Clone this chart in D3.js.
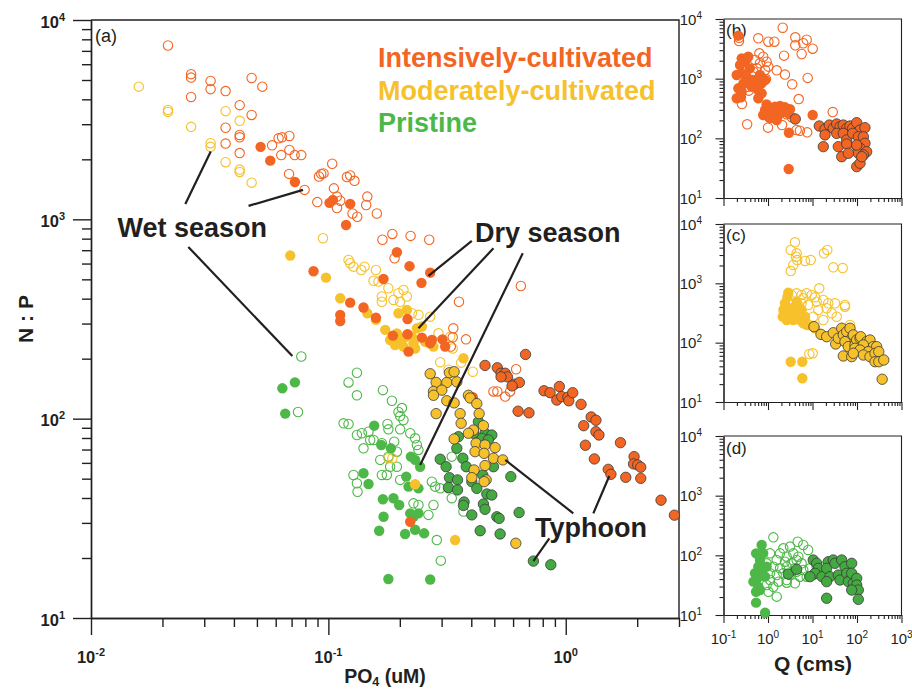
<!DOCTYPE html>
<html>
<head>
<meta charset="utf-8">
<script src="https://cdn.jsdelivr.net/npm/d3@7/dist/d3.min.js"></script>
<style>
html,body{margin:0;padding:0;background:#fff;}
svg{display:block;}
</style>
</head>
<body>
<svg id="chart" width="912" height="691" font-family="'Liberation Sans', Arial, Helvetica, sans-serif"></svg>
<script>
// ================= DATA =================
const groupNames = ["Intensively-cultivated", "Moderately-cultivated", "Pristine"];
const groupColors = ["#F26522", "#F6C12B", "#4DB848"];
const typhoonFill = ["#F26522", "#F6C12B", "#45A942"];

// Panel (a): [PO4 (uM), N:P]
const intensiveWet = [[0.0211,7450],[0.0264,5350],[0.0264,5140],[0.0264,4110],[0.0319,4950],[0.0319,4500],[0.0369,4400],[0.0475,5120],[0.0527,4630],[0.0423,3740],[0.0475,3340],[0.0369,2880],[0.0423,2650],[0.0423,2580],[0.0369,2400],[0.0423,2150],[0.0579,2350],[0.0617,2550],[0.0638,2580],[0.0685,2620],[0.0685,2230],[0.0633,2100],[0.0721,2100],[0.0769,2100],[0.1038,1900],[0.0683,1690],[0.0913,1640],[0.0933,1690],[0.0954,1700],[0.0794,1405],[0.1055,1430],[0.0898,1220],[0.1087,1300],[0.1087,1140],[0.1197,1630],[0.1236,1660],[0.1288,1560],[0.1122,1240],[0.1264,1070],[0.1323,1030],[0.1459,1300],[0.1443,1180],[0.160,1070],[0.169,790],[0.186,845],[0.222,826],[0.266,790],[0.190,638],[0.355,386],[0.380,250],[0.334,256],[0.328,230],[0.647,463],[0.618,177],[0.496,137],[0.515,137],[0.556,129],[0.583,137],[0.336,284]];
const intensiveDry = [[0.0518,2310],[0.0569,1970],[0.0723,1540],[0.1011,1210],[0.1045,1250],[0.1236,1195],[0.1187,937],[0.1944,684],[0.2197,582],[0.2685,540],[0.1707,502],[0.2467,480],[0.0866,549],[0.1236,382],[0.1406,361],[0.1586,321],[0.1122,331],[0.1122,309],[0.2155,316],[0.187,261],[0.2155,265],[0.2477,255],[0.2729,248],[0.2685,239],[0.3024,250],[0.3105,230],[0.2176,217],[0.2212,30.4],[0.406,128]];
const intensiveTyphoon = [[0.677,210],[0.457,185],[0.515,180],[0.534,169],[0.556,169],[0.568,162],[0.608,149],[0.638,152],[0.594,146],[0.534,162],[0.630,109],[0.70,107],[0.810,138],[0.859,135],[0.940,145],[0.917,124],[0.962,129],[1.02,128],[1.03,123],[1.07,135],[1.16,118],[1.28,102],[1.34,98.2],[1.19,92.2],[1.34,86.0],[1.38,82.8],[1.21,73.6],[1.32,62.8],[1.70,75.8],[1.51,55.7],[1.55,52.6],[1.79,50.8],[1.94,64.5],[1.93,59.3],[2.01,58.6],[2.07,57.1],[2.07,50.2],[2.52,39.0],[2.87,32.8]];
const moderateWet = [[0.0159,4630],[0.0211,3540],[0.0211,3460],[0.0264,2910],[0.0319,2410],[0.0319,2310],[0.0369,3490],[0.0423,3120],[0.0369,1935],[0.0423,1776],[0.0423,1729],[0.0475,1528],[0.0949,804],[0.1216,626],[0.1236,602],[0.1276,579],[0.1375,557],[0.142,579],[0.1586,557],[0.155,492],[0.1626,487],[0.179,451],[0.1974,426],[0.2072,442],[0.168,410],[0.168,386],[0.188,394],[0.2006,386],[0.2141,410],[0.2248,338],[0.2396,332],[0.2685,325],[0.291,268],[0.326,258],[0.334,225],[0.296,192],[0.3205,176],[0.406,172],[0.3625,191],[0.179,63.3],[0.186,63.3]];
const moderateDry = [[0.0691,658],[0.0977,510],[0.1122,402],[0.1459,338],[0.1586,313],[0.1974,338],[0.2141,351],[0.182,248],[0.1944,268],[0.2006,248],[0.2248,258],[0.2283,239],[0.236,284],[0.2477,290],[0.2072,230],[0.232,225],[0.2557,243],[0.2772,230],[0.3707,201],[0.232,46.9],[0.342,24.6],[0.1736,279],[0.2107,257],[0.191,234]];
const moderateTyphoon = [[0.2685,168],[0.2844,152],[0.3155,152],[0.3477,153],[0.3236,170],[0.3387,172],[0.2772,137],[0.3006,139],[0.2772,131],[0.3155,123],[0.3387,120],[0.389,131],[0.3956,127],[0.422,119],[0.2844,106],[0.359,106],[0.4316,106],[0.3625,94.8],[0.45,92.2],[0.4085,87.7],[0.389,84.5],[0.3387,79.1],[0.419,75.3],[0.415,68.3],[0.457,73.8],[0.453,67],[0.504,71.6],[0.496,63.3],[0.543,62.1],[0.457,58.2],[0.411,55.3],[0.402,50.6],[0.462,49.3],[0.453,48.3],[0.616,23.7]];
const pristineWet = [[0.0769,205],[0.0745,108],[0.1319,170],[0.1216,152],[0.1319,131],[0.1697,139],[0.1852,123],[0.2041,113],[0.1974,108],[0.2006,103],[0.2072,98.5],[0.1159,94.8],[0.1216,94],[0.1319,82.8],[0.1384,84.5],[0.1476,86],[0.15,78.2],[0.1774,94],[0.179,88.4],[0.2006,88.4],[0.1406,71],[0.155,78.2],[0.168,75.3],[0.1894,76.7],[0.1944,68.3],[0.1654,62.1],[0.179,64.5],[0.182,57.4],[0.1763,52.2],[0.1944,57.4],[0.2006,49.3],[0.2212,84.5],[0.232,79.7],[0.236,73.8],[0.2396,69.7],[0.1276,52.2],[0.1319,47.4],[0.1327,43],[0.168,52.2],[0.2729,48.3],[0.2818,45.6],[0.296,44.7],[0.3205,44.7],[0.331,64.5],[0.331,39.9],[0.2283,37.6],[0.2396,36.9],[0.264,32.9],[0.2772,36.9],[0.3707,34.2],[0.2863,24.6],[0.2977,19.4]];
const pristineDry = [[0.064,142],[0.0723,152],[0.0658,106],[0.156,92.2],[0.167,73.8],[0.1834,71],[0.1406,53.2],[0.1476,47],[0.2227,64.5],[0.232,62.1],[0.2435,57.4],[0.2128,51.2],[0.2176,45.6],[0.2396,44.7],[0.1697,39.4],[0.188,39.9],[0.1987,36.9],[0.1708,32.2],[0.2212,33.5],[0.2283,32.2],[0.2396,33.5],[0.1637,27.4],[0.2105,26.4],[0.232,27.7],[0.2532,26.6],[0.179,15.7],[0.2685,15.6]];
const pristineTyphoon = [[0.353,81.2],[0.4286,96.6],[0.457,84.5],[0.443,79.7],[0.488,82.8],[0.472,78.2],[0.4085,84.5],[0.3477,71],[0.3685,63.3],[0.296,62.6],[0.3133,57.4],[0.381,57.4],[0.496,57.4],[0.3236,50.6],[0.35,49.3],[0.3205,45.2],[0.35,43.9],[0.402,48.3],[0.422,44.7],[0.447,52.2],[0.587,51.2],[0.465,41.9],[0.488,41.4],[0.373,38.2],[0.3707,36.7],[0.45,37.3],[0.457,35.1],[0.402,32.9],[0.5125,32.2],[0.524,31.6],[0.636,33.8],[0.436,27.4],[0.529,26.4],[0.7305,19.3],[0.865,18.5]];

// Panels (b)-(d): [Q (cms), N:P]
const intensiveWetQ = [[0.223,4850],[0.223,4280],[0.605,4750],[1.02,4170],[1.39,4170],[2.14,7150],[4.1,4930],[7.4,4500],[6.2,3920],[4.1,3620],[10.1,3180],[2.29,2430],[5.7,2590],[0.64,2660],[0.78,2330],[0.51,2060],[0.66,1810],[0.93,1920],[1.02,1590],[0.86,1400],[0.56,1490],[0.47,1310],[1.57,1380],[2.41,1170],[0.90,990],[7.8,1030],[0.34,730],[3.5,805],[0.37,630],[4.9,455],[0.26,375],[28.5,276],[2.63,253],[0.34,172],[1.0,151],[2.07,167],[4.4,138],[5.2,134],[7.6,126],[3.4,225]];
const intensiveDryQ = [[0.215,5250],[0.257,2190],[0.304,1920],[0.235,1690],[0.36,2330],[0.39,1490],[0.257,1230],[0.198,1150],[0.33,1080],[0.47,950],[0.56,783],[0.43,733],[0.605,646],[0.72,568],[0.215,689],[0.257,604],[0.198,469],[0.247,487],[0.605,469],[0.72,836],[0.86,950],[0.66,1150],[0.36,836],[0.28,836],[0.93,371],[0.86,298],[1.11,319],[1.44,339],[1.86,348],[2.41,331],[3.12,307],[0.78,246],[1.02,231],[1.30,263],[1.72,246],[2.2,279],[2.86,263],[1.11,217],[1.57,203],[10.1,246],[2.96,124],[2.92,30.6]];
const intensiveTyphoonQ = [[14.2,161],[19.1,142],[23.9,167],[29.3,147],[35.0,174],[41.5,157],[49.2,167],[58.7,147],[69.6,161],[80,147],[98.5,183],[117,138],[151,151],[19.1,114],[35.0,121],[49.2,121],[58.7,94],[80,121],[107,106],[139,106],[151,82.6],[17.5,72.5],[38,72.5],[58.7,80.4],[98.5,74.3],[117,68.1],[107,56.1],[165,59.7],[139,52.6],[45.3,49.2],[63.7,56.1],[98.5,33.5],[117,38.2],[128,49.2],[98.5,77.3],[4.1,211]];
const moderateWetQ = [[4.04,4920],[3.24,3650],[4.4,3210],[4.26,2810],[4.55,2470],[3.7,2040],[3.24,1610],[6.8,2380],[9.1,2470],[18.1,3210],[21.5,3650],[29.3,1860],[47.7,1810],[14.2,824],[3.4,636],[4.4,679],[5.7,636],[6.2,560],[7.4,679],[9.6,636],[11.4,582],[5.7,461],[8.0,432],[12.4,491],[17.5,524],[22.6,461],[32,461],[53.7,432],[13.5,356],[20.8,380],[27,313],[35,274],[10.4,274],[17.5,241],[8.0,199],[53.7,404],[69.6,199],[8.5,64.4],[10.1,66.1]];
const moderateDryQ = [[2.86,696],[2.72,582],[2.41,461],[2.21,356],[2.14,274],[2.63,241],[3.4,380],[4.04,313],[5.24,241],[6.2,212],[4.4,491],[5.7,356],[6.8,274],[3.12,292],[3.7,241],[4.8,404],[2.63,313],[7.4,199],[10.4,186],[11.4,175],[3.24,47.7],[5.9,47.7],[5.9,25.1]];
const moderateTyphoonQ = [[15.5,138],[20.8,126],[29.3,147],[33.2,95],[38,119],[45.3,175],[49.2,135],[58.7,153],[69.6,175],[76,119],[82.6,135],[53.7,104],[63.7,85.7],[90.2,91.5],[98.5,111],[117,119],[121,126],[165,104],[196,111],[139,91.5],[233,85.7],[277,85.7],[90.2,80.4],[117,75.2],[179,70.5],[49.2,59.6],[76,58.1],[139,61.9],[196,58.1],[254,66.2],[309,70.5],[254,47.7],[309,47.7],[400,51],[82.6,66.2],[368,24.2],[10.8,186]];
const pristineWetQ = [[1.32,200],[4.65,169],[3.12,140],[2.21,131],[6.2,149],[8.0,123],[1.11,108],[1.86,108],[2.63,94.9],[3.7,108],[4.8,94.9],[1.57,83.5],[2.41,78.2],[3.4,73.5],[4.4,83.5],[5.7,73.5],[0.93,73.5],[1.32,64.5],[1.86,60.6],[2.63,64.5],[4.04,60.6],[1.11,50.0],[1.57,46.8],[2.21,50.0],[3.12,46.8],[4.4,53.2],[6.2,56.8],[8.78,60.6],[12.4,64.5],[17.5,64.5],[5.24,43.9],[7.4,43.9],[10.4,46.8],[1.11,38.6],[1.72,36.2],[2.63,34.8],[4.04,34.0],[0.93,31.8],[1.32,29.8],[1.02,24.5],[1.57,20.3],[2.63,38.6]];
const pristineDryQ = [[0.72,149],[0.54,108],[0.66,83.5],[0.605,64.5],[0.51,50.0],[0.72,53.2],[0.575,41.2],[0.47,36.2],[0.605,29.8],[0.54,24.5],[0.66,26.2],[0.86,43.9],[0.93,64.5],[0.78,108],[0.54,16.1],[0.86,10.9]];
const pristineTyphoonQ = [[2.86,48.6],[4.4,58.3],[10.4,83.5],[12.4,73.5],[13.5,60.6],[11.4,50.0],[8.78,43.9],[16.4,43.9],[22.6,78.2],[20.8,60.6],[29.3,83.5],[32,73.5],[24.7,43.9],[20.8,36.2],[38,46.8],[41.5,38.6],[45.3,83.5],[53.7,64.5],[58.7,50.0],[69.6,38.6],[63.7,36.2],[76,73.5],[76,50.0],[82.6,34.0],[98.5,41.2],[98.5,31.8],[107,26.2],[76,26.2],[20.8,19.1],[107,18.3]];

// Axis ticks
const po4Majors = [0.01, 0.1, 1];
const npMajors = [10, 100, 1000, 10000];
const qMajors = [0.1, 1, 10, 100, 1000];

// Annotations (text anchor and leader lines, in data units of panel a)
const annotLabels = [
  {text: "Wet season", at: [0.01292, 817]},
  {text: "Dry season", at: [0.4148, 773]},
  {text: "Typhoon", at: [0.743, 25.6]}
];
const annotLines = [
  [[0.02497, 1195], [0.03195, 2188]],
  [[0.0461, 1168], [0.0782, 1405]],
  [[0.0257, 727], [0.0705, 206]],
  [[0.402, 779], [0.264, 520]],
  [[0.496, 716], [0.2396, 284]],
  [[0.659, 676], [0.2435, 58.6]],
  [[1.076, 33.5], [0.556, 62.1]],
  [[1.307, 33.5], [1.526, 51.6]],
  [[0.853, 25.1], [0.7305, 19.3]]
];

// ================= DRAWING =================
const ink = "#231F20";
const svg = d3.select("#chart");

function minorTicks(lo, hi, maxV) {
  const t = [];
  for (let e = lo; e < hi; e++) for (let m = 2; m <= 9; m++) {
    const v = +(m * Math.pow(10, e)).toPrecision(3);
    if (v <= maxV) t.push(v);
  }
  return t;
}

function logAxis(g, scale, orient, majors, minors, majorLen, minorLen, width) {
  const mk = orient === "bottom" ? d3.axisBottom : d3.axisLeft;
  g.append("g").call(mk(scale).tickValues(minors).tickSize(minorLen).tickSizeOuter(0).tickFormat(""));
  g.append("g").call(mk(scale).tickValues(majors).tickSize(majorLen).tickSizeOuter(0).tickFormat(""));
  g.selectAll("path,line").attr("stroke", ink).attr("stroke-width", width);
  g.selectAll(".tick text").remove();
}

function powLabels(g, scale, orient, majors, o) {
  majors.forEach(v => {
    const e = Math.round(Math.log10(v));
    const t = g.append("text").attr("fill", ink).attr("font-size", o.size).attr("font-weight", o.weight);
    if (orient === "bottom") t.attr("x", scale(v)).attr("y", o.y).attr("text-anchor", "middle");
    else t.attr("x", o.x).attr("y", scale(v) + o.dy).attr("text-anchor", "end");
    t.append("tspan").text("10");
    t.append("tspan").attr("font-size", o.sup).attr("dy", -o.raise).text(String(e));
  });
}

function drawPoints(g, data, xs, ys, gi, type) {
  g.append("g").selectAll("circle").data(data).join("circle")
    .attr("cx", d => xs(d[0])).attr("cy", d => ys(d[1]))
    .attr("r", type === "wet" ? 4.7 : 5.2)
    .attr("fill", type === "wet" ? "none" : (type === "typhoon" ? typhoonFill[gi] : groupColors[gi]))
    .attr("stroke", type === "wet" ? groupColors[gi] : (type === "typhoon" ? "#3a3a3a" : "none"))
    .attr("stroke-width", type === "wet" ? 1.1 : 0.8);
}

// ---- Panel (a) ----
const x = d3.scaleLog().domain([0.01, 3]).range([91, 679]);
const y = d3.scaleLog().domain([10, 10000]).range([618, 20]);
const gA = svg.append("g");

// frame (top & right)
gA.append("path")
  .attr("d", `M${x(0.01)},${y(10000)}H${x(3)}V${y(10)}`)
  .attr("fill", "none").attr("stroke", ink).attr("stroke-width", 1.4);

const gx = gA.append("g").attr("transform", `translate(0,${y(10)})`);
logAxis(gx, x, "bottom", po4Majors, minorTicks(-2, 1, 3), 17, 9, 1.4);
const gy = gA.append("g").attr("transform", `translate(${x(0.01)},0)`);
logAxis(gy, y, "left", npMajors, minorTicks(1, 4, 1e4), 18, 9, 1.4);

powLabels(gA, x, "bottom", po4Majors, {y: 663, size: 16.5, sup: 11, raise: 7, weight: "bold"});
powLabels(gA, y, "left", npMajors, {x: 65, dy: 7.5, size: 16.5, sup: 11, raise: 7, weight: "bold"});

// axis titles
const xt = gA.append("text").attr("x", 385).attr("y", 683).attr("text-anchor", "middle")
  .attr("font-size", 19.5).attr("font-weight", "bold").attr("fill", ink);
xt.append("tspan").text("PO");
xt.append("tspan").attr("font-size", 12.5).attr("dy", 3).text("4");
xt.append("tspan").attr("dy", -3).text(" (uM)");
gA.append("text").attr("transform", "translate(33,319) rotate(-90)").attr("text-anchor", "middle")
  .attr("font-size", 21).attr("font-weight", "bold").attr("fill", ink).text("N : P");

gA.append("text").attr("x", 95).attr("y", 42).attr("font-size", 18).attr("fill", ink).text("(a)");

// points (wet, then dry, then typhoon)
const plotA = gA.append("g");
[[pristineWet,2],[moderateWet,1],[intensiveWet,0]].forEach(([d,i]) => drawPoints(plotA, d, x, y, i, "wet"));
[[pristineDry,2],[moderateDry,1],[intensiveDry,0]].forEach(([d,i]) => drawPoints(plotA, d, x, y, i, "dry"));
[[pristineTyphoon,2],[moderateTyphoon,1],[intensiveTyphoon,0]].forEach(([d,i]) => drawPoints(plotA, d, x, y, i, "typhoon"));

// annotations
gA.append("g").selectAll("line").data(annotLines).join("line")
  .attr("x1", d => x(d[0][0])).attr("y1", d => y(d[0][1]))
  .attr("x2", d => x(d[1][0])).attr("y2", d => y(d[1][1]))
  .attr("stroke", ink).attr("stroke-width", 2.2);
gA.append("g").selectAll("text").data(annotLabels).join("text")
  .attr("x", d => x(d.at[0])).attr("y", d => y(d.at[1]))
  .attr("font-size", 27).attr("font-weight", "bold").attr("fill", ink).text(d => d.text);

// legend
gA.append("g").selectAll("text").data(groupNames).join("text")
  .attr("x", 378).attr("y", (d, i) => [67, 100, 132][i])
  .attr("font-size", 27).attr("font-weight", "bold")
  .attr("fill", (d, i) => groupColors[i]).text(d => d);

// ---- Panels (b), (c), (d) ----
const qx = d3.scaleLog().domain([0.1, 1000]).range([723.5, 901.5]);
const panels = [
  {label: "(b)", top: 19, bottom: 198, gi: 0, wet: intensiveWetQ, dry: intensiveDryQ, ty: intensiveTyphoonQ, labelY: 36},
  {label: "(c)", top: 224, bottom: 402, gi: 1, wet: moderateWetQ, dry: moderateDryQ, ty: moderateTyphoonQ, labelY: 241},
  {label: "(d)", top: 436, bottom: 615, gi: 2, wet: pristineWetQ, dry: pristineDryQ, ty: pristineTyphoonQ, labelY: 454}
];
panels.forEach((p, k) => {
  const py = d3.scaleLog().domain([10, 10000]).range([p.bottom, p.top]);
  const g = svg.append("g");
  g.append("path").attr("d", `M${qx(0.1)},${p.top}H${qx(1000)}V${p.bottom}`)
    .attr("fill", "none").attr("stroke", ink).attr("stroke-width", 1.1);
  const ax = g.append("g").attr("transform", `translate(0,${p.bottom})`);
  logAxis(ax, qx, "bottom", qMajors, minorTicks(-1, 3, 1000), 8, 4, 1.1);
  const ay = g.append("g").attr("transform", `translate(${qx(0.1)},0)`);
  logAxis(ay, py, "left", npMajors, minorTicks(1, 4, 1e4), 8, 4, 1.1);
  powLabels(g, py, "left", npMajors, {x: 702, dy: 5.5, size: 15, sup: 10, raise: 6, weight: "normal"});
  if (k === 2) powLabels(g, qx, "bottom", qMajors, {y: 644, size: 15, sup: 10, raise: 6, weight: "normal"});
  g.append("text").attr("x", 726).attr("y", p.labelY).attr("font-size", 17).attr("fill", ink).text(p.label);
  const pg = g.append("g");
  drawPoints(pg, p.wet, qx, py, p.gi, "wet");
  drawPoints(pg, p.dry, qx, py, p.gi, "dry");
  drawPoints(pg, p.ty, qx, py, p.gi, "typhoon");
});

svg.append("text").attr("x", 813).attr("y", 671).attr("text-anchor", "middle")
  .attr("font-size", 21).attr("font-weight", "bold").attr("fill", ink).text("Q (cms)");
</script>
</body>
</html>
